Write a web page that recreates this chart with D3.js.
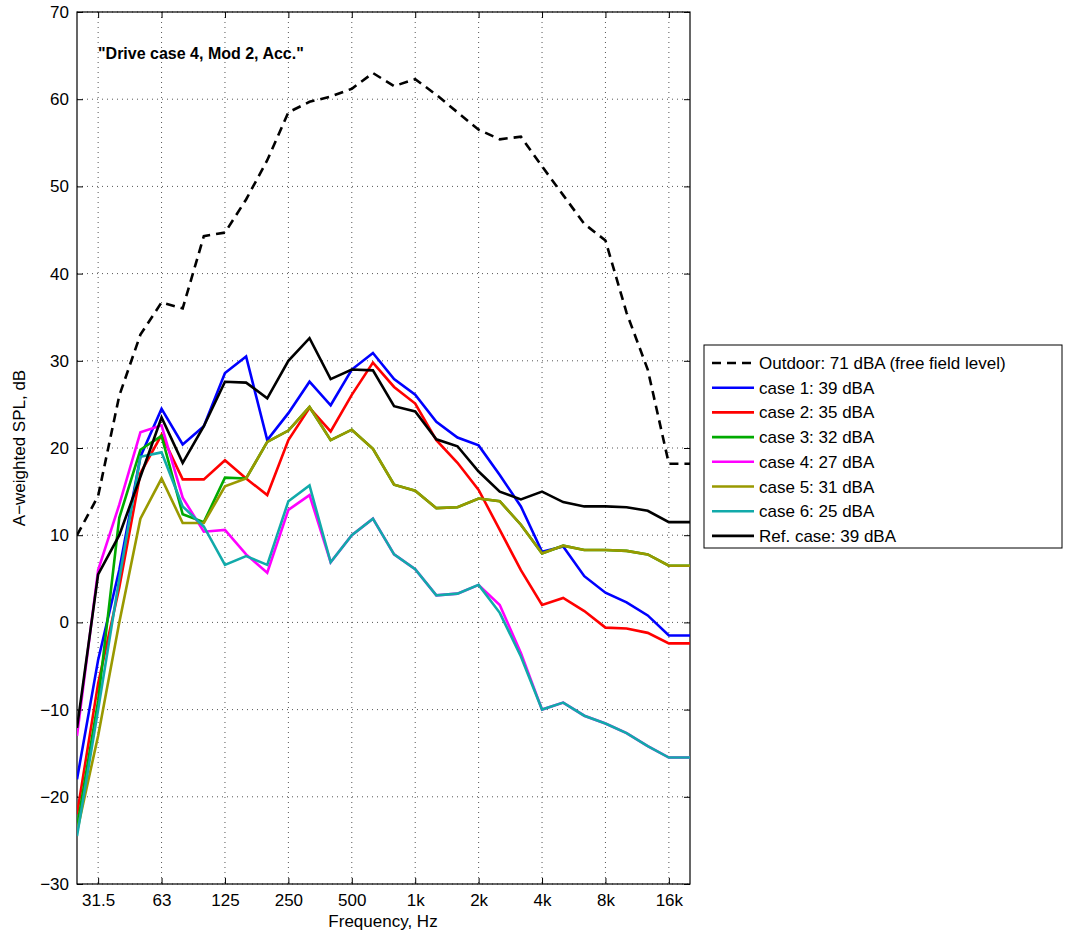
<!DOCTYPE html>
<html><head><meta charset="utf-8">
<script src="https://cdn.jsdelivr.net/npm/d3@7"></script>
<style>body{margin:0;background:#fff;font-family:"Liberation Sans",Arial,sans-serif}</style>
</head><body><svg id="c" width="1072" height="938"></svg>
<script>
const bands=["25","31.5","40","50","63","80","100","125","160","200","250","315","400","500","630","800","1k","1.25k","1.6k","2k","2.5k","3.15k","4k","5k","6.3k","8k","10k","12.5k","16k","20k"];
const tickLabels=["31.5","63","125","250","500","1k","2k","4k","8k","16k"];
const outdoor=[10,14.5,26,33,36.7,36,44.3,44.7,48.5,53,58.5,59.7,60.3,61.2,63,61.5,62.3,60.5,58.5,56.5,55.4,55.7,52.3,49,45.7,43.8,35.5,29,18.2,18.2];
const case1=[-18,-4.3,6,19,24.5,20.4,22.5,28.6,30.5,20.9,24,27.6,24.9,29,30.9,27.9,26.1,23,21.2,20.3,16.9,13.3,8.1,8.7,5.3,3.4,2.3,0.8,-1.5,-1.5];
const case2=[-22,-7,4,17.1,21.5,16.4,16.4,18.6,16.5,14.6,20.9,24.6,21.9,26.1,29.8,27,25.1,20.9,18.3,15.2,10.6,6,2,2.8,1.3,-0.6,-0.7,-1.2,-2.4,-2.4];
const case3=[-23.5,-9,12,19.8,21.4,12.4,11.5,16.6,16.5,20.7,22,24.7,20.9,22.1,19.9,15.8,15.1,13.1,13.2,14.2,13.9,11.2,7.9,8.8,8.3,8.3,8.2,7.8,6.5,6.5];
const case4=[-13,6,13.5,21.8,22.6,14.3,10.4,10.6,7.8,5.7,12.9,14.6,6.9,10,11.9,7.8,6.1,3.1,3.3,4.3,2,-3.5,-10,-9.2,-10.7,-11.6,-12.7,-14.2,-15.5,-15.5];
const case5=[-24,-13,0,11.9,16.5,11.4,11.4,15.6,16.5,20.7,22,24.7,20.9,22.1,19.9,15.8,15.1,13.1,13.2,14.2,13.9,11.2,7.9,8.8,8.3,8.3,8.2,7.8,6.5,6.5];
const case6=[-24.5,-10,5,19,19.5,13.3,11,6.6,7.6,6.6,13.9,15.7,6.9,10,11.9,7.8,6.1,3.1,3.3,4.3,1.1,-3.9,-10,-9.2,-10.7,-11.6,-12.7,-14.2,-15.5,-15.5];
const refCase=[-12.1,5.5,10,16.7,23.5,18.3,22.5,27.6,27.5,25.7,30,32.6,27.9,29,28.9,24.8,24.2,21,20.2,17.3,15,14.1,15,13.8,13.3,13.3,13.2,12.8,11.5,11.5];
const series=[
 {name:"Outdoor: 71 dBA (free field level)",v:outdoor,c:"#000",dash:"9,6"},
 {name:"case 1: 39 dBA",v:case1,c:"#0000ff"},
 {name:"case 2: 35 dBA",v:case2,c:"#ff0000"},
 {name:"case 3: 32 dBA",v:case3,c:"#00aa00"},
 {name:"case 4: 27 dBA",v:case4,c:"#ff00ff"},
 {name:"case 5: 31 dBA",v:case5,c:"#999900"},
 {name:"case 6: 25 dBA",v:case6,c:"#11aaaa"},
 {name:"Ref. case: 39 dBA",v:refCase,c:"#000"}];
const svg=d3.select("#c");
const L=77,R=690,T=12,B=884;
const x=d3.scaleLinear().domain([0,bands.length-1]).range([L,R]);
const y=d3.scaleLinear().domain([-30,70]).range([B,T]);
const tickIdx=tickLabels.map(t=>bands.indexOf(t));
const g=svg.append("g");
g.selectAll(".gx").data(tickIdx).join("line").attr("x1",d=>x(d)).attr("x2",d=>x(d)).attr("y1",T).attr("y2",B)
 .attr("stroke","#555").attr("stroke-width",1).attr("stroke-dasharray","1,4");
const yt=d3.range(-30,71,10);
g.selectAll(".gy").data(yt).join("line").attr("x1",L).attr("x2",R).attr("y1",d=>y(d)).attr("y2",d=>y(d))
 .attr("stroke","#555").attr("stroke-width",1).attr("stroke-dasharray","1,4");
const xa=d3.axisBottom(x).tickValues(tickIdx).tickFormat((d,i)=>tickLabels[i]).tickSize(-6).tickPadding(10);
const xat=d3.axisTop(x).tickValues(tickIdx).tickFormat("").tickSize(-6);
const ya=d3.axisLeft(y).tickValues(yt).tickSize(-6).tickPadding(8);
const yar=d3.axisRight(y).tickValues(yt).tickFormat("").tickSize(-6);
[[xa,`translate(0,${B})`],[xat,`translate(0,${T})`],[ya,`translate(${L},0)`],[yar,`translate(${R},0)`]].forEach(([a,t])=>{
 const ax=svg.append("g").attr("transform",t).call(a);
 ax.select(".domain").remove();
 ax.selectAll("text").attr("font-size",17).attr("font-family","Liberation Sans,Arial").attr("fill","#000");
 ax.selectAll("line").attr("stroke","#000");
});
svg.append("rect").attr("x",L).attr("y",T).attr("width",R-L).attr("height",B-T).attr("fill","none").attr("stroke","#000").attr("stroke-width",1.2);
const line=d3.line().x((d,i)=>x(i)).y(d=>y(d));
svg.append("clipPath").attr("id","cp").append("rect").attr("x",L).attr("y",T).attr("width",R-L).attr("height",B-T);
svg.append("g").attr("clip-path","url(#cp)").selectAll("path").data(series).join("path")
 .attr("d",d=>line(d.v)).attr("fill","none").attr("stroke",d=>d.c).attr("stroke-width",2.6)
 .attr("stroke-dasharray",d=>d.dash||null);
svg.append("text").attr("x",98).attr("y",59).attr("font-size",16).attr("font-weight","bold").text('"Drive case 4, Mod 2, Acc."');
svg.append("text").attr("x",383).attr("y",927).attr("text-anchor","middle").attr("font-size",17).text("Frequency, Hz");
svg.append("text").attr("transform","translate(25,448) rotate(-90)").attr("text-anchor","middle").attr("font-size",17).text("A\u2212weighted SPL, dB");
const lg=svg.append("g").attr("transform","translate(704,345)");
lg.append("rect").attr("width",358).attr("height",203).attr("fill","#fff").attr("stroke","#000");
series.forEach((s,i)=>{
 const yy=18+i*24.7;
 lg.append("line").attr("x1",8).attr("x2",50).attr("y1",yy).attr("y2",yy).attr("stroke",s.c).attr("stroke-width",2.6).attr("stroke-dasharray",s.dash||null);
 lg.append("text").attr("x",55).attr("y",yy+6).attr("font-size",17).text(s.name);
});
</script></body></html>
